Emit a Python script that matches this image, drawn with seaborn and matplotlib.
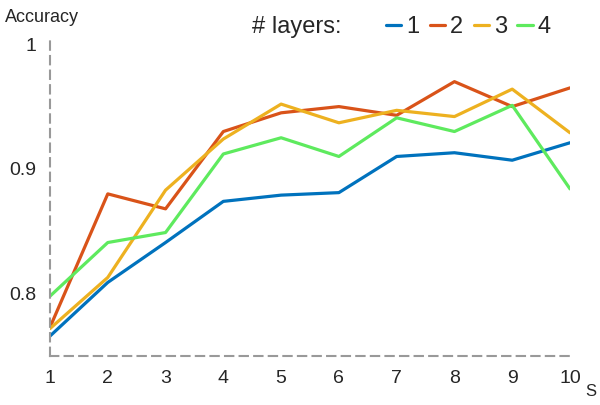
"""Accuracy vs S for different numbers of layers."""
import matplotlib
matplotlib.use('Agg')
import matplotlib.pyplot as plt
from matplotlib.lines import Line2D
import pandas as pd
import seaborn as sns

# data
s_values = [1, 2, 3, 4, 5, 6, 7, 8, 9, 10]
acc_1 = [0.766, 0.809, 0.841, 0.874, 0.879, 0.881, 0.910, 0.913, 0.907, 0.921]
acc_2 = [0.773, 0.880, 0.868, 0.930, 0.945, 0.950, 0.943, 0.970, 0.950, 0.965]
acc_3 = [0.772, 0.813, 0.883, 0.924, 0.952, 0.937, 0.947, 0.942, 0.964, 0.929]
acc_4 = [0.798, 0.841, 0.849, 0.912, 0.925, 0.910, 0.941, 0.930, 0.951, 0.884]
layer_names = ['1', '2', '3', '4']
colors = ['#0072BD', '#D95319', '#EDB120', '#5EEA5E']

frames = []
for name, acc in zip(layer_names, [acc_1, acc_2, acc_3, acc_4]):
    frames.append(pd.DataFrame({'S': s_values, 'Accuracy': acc, 'layers': name}))
df = pd.concat(frames, ignore_index=True)

sns.set_style('white')
plt.rcParams['font.family'] = ['Liberation Sans', 'DejaVu Sans']

fig = plt.figure(figsize=(6, 4.05), dpi=100)
ax = fig.add_axes([50 / 600, 1 - 356 / 405, 520 / 600, 318 / 405])

sns.lineplot(data=df, x='S', y='Accuracy', hue='layers', palette=colors,
             linewidth=2.3, ax=ax, legend=False)

ax.set_xlim(1, 10)
ax.set_ylim(0.75, 1.005)
ax.set_xticks(s_values)
ax.set_yticks([0.8, 0.9, 1.0])
ax.set_yticklabels(['0.8', '0.9', '1'])
ax.set_xlabel('')
ax.set_ylabel('')
ax.tick_params(labelsize=14, length=4, color='#999999', direction='inout',
               pad=8)

for side in ['top', 'right']:
    ax.spines[side].set_visible(False)
for side in ['left', 'bottom']:
    ax.spines[side].set_linestyle((0, (4, 3)))
    ax.spines[side].set_color('#999999')
    ax.spines[side].set_linewidth(1.5)
    ax.spines[side].set_clip_on(False)
ax.spines['bottom'].set_bounds(1, 10.05)

fig.text(5 / 600, 1 - 17 / 405, 'Accuracy', fontsize=13, va='center')
fig.text(591 / 600, 1 - 391 / 405, 'S', fontsize=12, va='center', ha='center')
fig.text(252 / 600, 1 - 27 / 405, '# layers:', fontsize=17, va='center')

handles = [Line2D([], [], color=c, linewidth=2.3) for c in colors]
fig.legend(handles, layer_names, loc='center left',
           bbox_to_anchor=(386 / 600, 1 - 27 / 405), ncol=4, frameon=False,
           fontsize=17, handlelength=0.65, handletextpad=0.2,
           columnspacing=0.45, borderpad=0, borderaxespad=0)

fig.savefig('out.png', dpi=100)
